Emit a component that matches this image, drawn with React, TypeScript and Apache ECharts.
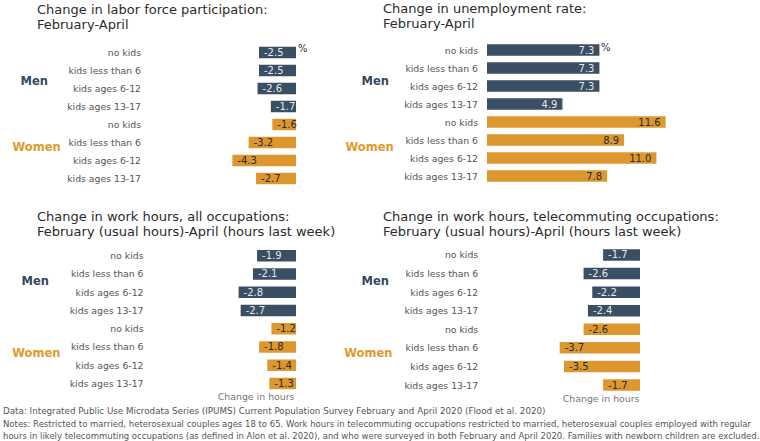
import React, { useEffect, useRef } from "react";
import * as echarts from "echarts";

const categories = [
  "no kids",
  "kids less than 6",
  "kids ages 6-12",
  "kids ages 13-17",
  "no kids",
  "kids less than 6",
  "kids ages 6-12",
  "kids ages 13-17",
];
const groups = ["Men", "Men", "Men", "Men", "Women", "Women", "Women", "Women"];

const laborForce = [-2.5, -2.5, -2.6, -1.7, -1.6, -3.2, -4.3, -2.7];
const unemployment = [7.3, 7.3, 7.3, 4.9, 11.6, 8.9, 11.0, 7.8];
const hoursAll = [-1.9, -2.1, -2.8, -2.7, -1.2, -1.8, -1.4, -1.3];
const hoursTele = [-1.7, -2.6, -2.2, -2.4, -2.6, -3.7, -3.5, -1.7];

const titles = [
  "Change in labor force participation:\nFebruary-April",
  "Change in unemployment rate:\nFebruary-April",
  "Change in work hours, all occupations:\nFebruary (usual hours)-April (hours last week)",
  "Change in work hours, telecommuting occupations:\nFebruary (usual hours)-April (hours last week)",
];
const unitLabel = "%";
const axisNote = "Change in hours";
const footerLines = [
  "Data: Integrated Public Use Microdata Series (IPUMS) Current Population Survey February and April 2020 (Flood et al. 2020)",
  "Notes: Restricted to married, heterosexual couples ages 18 to 65. Work hours in telecommuting occupations restricted to married, heterosexual couples employed with regular",
  "hours in likely telecommuting occupations (as defined in Alon et al. 2020), and who were surveyed in both February and April 2020. Families with newborn children are excluded.",
];

const NAVY = "#3a4e64";
const ORANGE = "#dc982e";
const FONT = "DejaVu Sans, Verdana, sans-serif";

export default function App() {
  const ref = useRef<HTMLDivElement>(null);
  useEffect(() => {
    if (!ref.current) return;
    const chart = echarts.init(ref.current, undefined, { renderer: "svg" });

    const panels = [
      { data: laborForce, min: -5, max: 0, left: 222, width: 74, top: 43.5, height: 144, margin: 81, neg: true },
      { data: unemployment, min: 0, max: 12, left: 487, width: 184.8, top: 41, height: 144, margin: 9, neg: false },
      { data: hoursAll, min: -3, max: 0, left: 234.5, width: 61.5, top: 246.6, height: 146, margin: 91, neg: true },
      { data: hoursTele, min: -4, max: 0, left: 553.2, width: 86.8, top: 245.7, height: 148.6, margin: 75, neg: true },
    ];

    const grid = panels.map((p) => ({ left: p.left, top: p.top, width: p.width, height: p.height, containLabel: false }));
    const xAxis = panels.map((p, i) => ({ type: "value", gridIndex: i, min: p.min, max: p.max, show: false }));
    const yAxis = panels.map((p, i) => ({
      type: "category",
      gridIndex: i,
      inverse: true,
      data: categories,
      axisLine: { show: false },
      axisTick: { show: false },
      splitLine: { show: false },
      axisLabel: { margin: p.margin, color: "#555", fontSize: 9.3, fontFamily: FONT },
    }));
    const series = panels.map((p, i) => ({
      type: "bar",
      xAxisIndex: i,
      yAxisIndex: i,
      barWidth: 11.5,
      data: p.data.map((v, j) => {
        const men = groups[j] === "Men";
        return {
          value: v,
          itemStyle: { color: men ? NAVY : ORANGE },
          label: { color: men ? "#e8e8e8" : "#2a2a2a" },
        };
      }),
      label: {
        show: true,
        position: p.neg ? "insideLeft" : "insideRight",
        distance: 5,
        fontSize: 10,
        fontFamily: FONT,
        formatter: (d: any) => Number(d.value).toFixed(1),
      },
    }));

    const txt = (x: number, y: number, text: string, style: any) => ({
      type: "text",
      x,
      y,
      silent: true,
      style: { text, fontFamily: FONT, ...style },
    });

    const bold = { fontSize: 11.5, fontWeight: "bold", verticalAlign: "middle" };
    const graphic: any[] = [
      txt(37, 2, titles[0], { fontSize: 13, lineHeight: 15, fill: "#2b2b2b", verticalAlign: "top" }),
      txt(383, 0.5, titles[1], { fontSize: 13, lineHeight: 15, fill: "#2b2b2b", verticalAlign: "top" }),
      txt(37, 208.5, titles[2], { fontSize: 13, lineHeight: 15, fill: "#2b2b2b", verticalAlign: "top" }),
      txt(383, 208.5, titles[3], { fontSize: 13, lineHeight: 15, fill: "#2b2b2b", verticalAlign: "top" }),
      // group labels
      txt(20.5, 80.7, "Men", { ...bold, fill: "#34495e" }),
      txt(12.5, 146.7, "Women", { ...bold, fill: "#e09a2c" }),
      txt(361.5, 80.7, "Men", { ...bold, fill: "#34495e" }),
      txt(345.5, 146.7, "Women", { ...bold, fill: "#e09a2c" }),
      txt(21.5, 280.7, "Men", { ...bold, fill: "#34495e" }),
      txt(12.3, 353.3, "Women", { ...bold, fill: "#e09a2c" }),
      txt(361.5, 280.7, "Men", { ...bold, fill: "#34495e" }),
      txt(344.3, 353.3, "Women", { ...bold, fill: "#e09a2c" }),
      // units
      txt(298, 48, unitLabel, { fontSize: 10, fill: "#333", verticalAlign: "middle" }),
      txt(601, 47.7, unitLabel, { fontSize: 10, fill: "#333", verticalAlign: "middle" }),
      txt(294.5, 396.7, axisNote, { fontSize: 9.4, fill: "#777", align: "right", verticalAlign: "middle" }),
      txt(639.5, 398.7, axisNote, { fontSize: 9.4, fill: "#777", align: "right", verticalAlign: "middle" }),
      // footer
      txt(3, 411, footerLines[0], { fontSize: 8.75, fill: "#555", verticalAlign: "middle" }),
      txt(3, 423.5, footerLines[1], { fontSize: 8.5, fill: "#555", verticalAlign: "middle" }),
      txt(3, 436, footerLines[2], { fontSize: 8.5, fill: "#555", verticalAlign: "middle" }),
    ];

    chart.setOption({
      animation: false,
      backgroundColor: "#ffffff",
      grid,
      xAxis,
      yAxis,
      series,
      graphic,
    } as any);

    return () => chart.dispose();
  }, []);

  return (
    <div
      ref={ref}
      style={{ position: "fixed", left: 0, top: 0, width: 760, height: 441, background: "#fff" }}
    />
  );
}
